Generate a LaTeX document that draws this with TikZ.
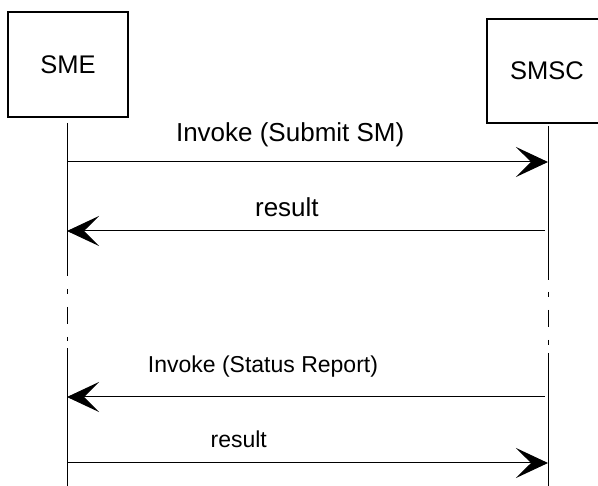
\documentclass[tikz,border=0pt]{standalone}
\usepackage{fontspec}
\setmainfont{Liberation Sans}
\usetikzlibrary{arrows.meta}

\begin{document}
\begin{tikzpicture}[
  x=1pt, y=-1pt,
  entity/.style={rectangle, draw, line width=1.2pt, minimum width=120pt,
    minimum height=105pt, inner sep=0pt, font=\fontsize{25.5}{30}\selectfont},
  life/.style={draw, line width=1pt},
  gapline/.style={life, dash pattern=on 5pt off 13pt on 17pt off 13pt},
  msg/.style={draw, line width=1pt, -{Stealth[length=32pt, width=30pt, inset=15pt]}},
  lbl/.style={anchor=base, inner sep=0pt, font=\fontsize{26}{30}\selectfont},
  lbl low/.style={lbl, font=\fontsize{23}{27}\selectfont},
]
  \useasboundingbox (0,0) rectangle (598,486);

  \node[entity] (sme)  at (68,64.5) {SME};
  \node[entity, minimum height=104pt] (smsc) at (547,71) {SMSC};

  % lifelines
  \coordinate (sme-top)  at (67,123);
  \coordinate (smsc-top) at (548,126);
  \coordinate (sme-bot)  at (67,486);
  \coordinate (smsc-bot) at (548,486);
  \draw[life] (sme-top) -- (67,276);
  \draw[gapline] (67,289) -- (67,341);
  \draw[life] (67,348) -- (sme-bot);
  \draw[life] (smsc-top) -- (548,280);
  \draw[gapline] (548,292) -- (548,347);
  \draw[life] (548,353) -- (smsc-bot);

  % message ends
  \coordinate (sme-1) at (67,162);  \coordinate (smsc-1) at (548,162);
  \coordinate (sme-2) at (67,231);  \coordinate (smsc-2) at (545,231);
  \coordinate (sme-3) at (67,397);  \coordinate (smsc-3) at (545,397);
  \coordinate (sme-4) at (67,463);  \coordinate (smsc-4) at (548,463);

  \draw[msg] (sme-1) -- node[lbl, pos=.464, yshift=20pt] (submit) {Invoke (Submit SM)} (smsc-1);
  \draw[msg] (smsc-2) -- node[lbl, pos=.54, yshift=14pt] (res1) {result} (sme-2);
  \draw[msg] (smsc-3) -- node[lbl low, pos=.59, yshift=24pt] (status) {Invoke (Status Report)} (sme-3);
  \draw[msg] (sme-4) -- node[lbl low, pos=.357, yshift=15pt] (res2) {result} (smsc-4);
\end{tikzpicture}
\end{document}
